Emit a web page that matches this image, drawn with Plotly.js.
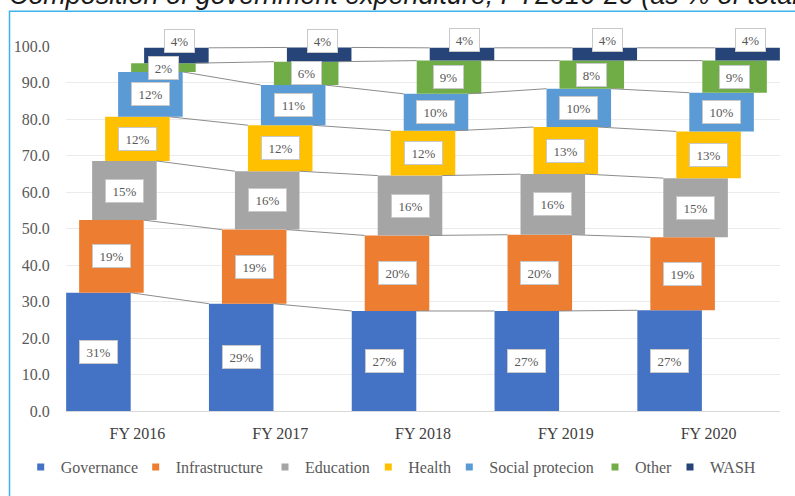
<!DOCTYPE html>
<html>
<head>
<meta charset="utf-8">
<script src="https://cdn.plot.ly/plotly-3.0.1.min.js"></script>
<style>html,body{margin:0;padding:0;background:#fff;} #chart{width:795px;height:496px;}</style>
</head>
<body>
<div id="chart"></div>
<script>
const categories = ['FY 2016', 'FY 2017', 'FY 2018', 'FY 2019', 'FY 2020'];
const seriesNames = ['Governance', 'Infrastructure', 'Education', 'Health', 'Social protecion', 'Other', 'WASH'];
const governance       = [32.4, 29.4, 27.4, 27.4, 27.6];
const infrastructure   = [19.9, 20.3, 20.7, 20.9, 20.0];
const education        = [16.2, 16.0, 16.4, 16.6, 16.2];
const health           = [12.1, 12.6, 12.3, 12.9, 12.8];
const socialProtection = [12.3, 11.0, 10.1, 10.5, 10.6];
const other            = [2.4, 6.4, 9.1, 7.7, 8.8];
const wash             = [4.2, 3.9, 3.5, 3.5, 3.5];
const governanceLabels       = [31, 29, 27, 27, 27];
const infrastructureLabels   = [19, 19, 20, 20, 19];
const educationLabels        = [15, 16, 16, 16, 15];
const healthLabels           = [12, 12, 12, 13, 13];
const socialProtectionLabels = [12, 11, 10, 10, 10];
const otherLabels            = [2, 6, 9, 8, 9];
const washLabels             = [4, 4, 4, 4, 4];
const yTickValues = [0, 10, 20, 30, 40, 50, 60, 70, 80, 90, 100];
const chartTitle = 'Composition of government expenditure, FY2016-20 (as % of total)';

const seriesValues = [governance, infrastructure, education, health, socialProtection, other, wash];
const seriesLabels = [governanceLabels, infrastructureLabels, educationLabels, healthLabels, socialProtectionLabels, otherLabels, washLabels];
const colors = ['#4472C4', '#ED7D31', '#A5A5A5', '#FFC000', '#5B9BD5', '#70AD47', '#264478'];

const W = 795, H = 496;
const M = {l: 66, r: 15, t: 46, b: 83};
const plotW = W - M.l - M.r, plotH = H - M.t - M.b;
const pxToPaperX = px => (px - M.l) / plotW;
const pxToPaperY = py => (H - M.b - py) / plotH;

const barWidth = 0.452;
const step = 0.091;
const xIdx = categories.map((c, i) => i);
const serif = 'Liberation Serif, Times New Roman, serif';

const traces = [];
const annotations = [];
const cum = categories.map(() => 0);
const lineX = [], lineY = [];

seriesValues.forEach((vals, s) => {
  const off = -barWidth / 2 + (s - 3) * step;
  const base = cum.slice();
  traces.push({
    type: 'bar', x: xIdx, y: vals, base: base, offset: off, width: barWidth,
    marker: {color: colors[s], line: {width: 0}}, name: seriesNames[s],
    showlegend: false, hoverinfo: 'skip'
  });
  const tops = vals.map((v, i) => base[i] + v);
  for (let i = 0; i < categories.length - 1; i++) {
    lineX.push(i + off + barWidth, i + 1 + off, null);
    lineY.push(tops[i], tops[i + 1], null);
  }
  vals.forEach((v, i) => {
    const isWash = s === seriesValues.length - 1;
    const lbl = seriesLabels[s][i];
    annotations.push({
      x: i + off + barWidth / 2, y: base[i] + v / 2, xref: 'x', yref: 'y',
      text: lbl + '%', showarrow: false,
      font: {family: serif, size: 13, color: '#595959'},
      bgcolor: '#ffffff', bordercolor: '#c8c8c8', borderwidth: 1, borderpad: 4,
      width: lbl >= 10 ? 29 : 21, height: 14,
      yshift: isWash ? 14 : 0, xshift: isWash ? 3 : 0
    });
  });
  tops.forEach((t, i) => { cum[i] = t; });
});

traces.push({
  type: 'scatter', mode: 'lines', x: lineX, y: lineY,
  line: {color: '#8c8c8c', width: 1}, showlegend: false, hoverinfo: 'skip'
});

// title (placed partly above the top edge, as in the reference)
annotations.push({
  xref: 'paper', yref: 'paper', x: pxToPaperX(7), y: pxToPaperY(-5.5),
  xanchor: 'left', yanchor: 'middle', showarrow: false,
  text: '<i>' + chartTitle + '</i>',
  font: {family: 'Liberation Sans, Arial, sans-serif', size: 26.9, color: '#1a1a1a'}
});

// one legend per entry so each entry sits where the reference puts it
const legendTextStart = [60.7, 175.7, 305, 408.3, 489.3, 635, 710];
const layoutLegends = {};
seriesNames.forEach((n, s) => {
  const key = s === 0 ? 'legend' : 'legend' + (s + 1);
  traces.push({
    type: 'scatter', mode: 'markers', x: [null], y: [null], name: n, legend: key,
    marker: {symbol: 'square', size: 7, color: colors[s]}, showlegend: true
  });
  layoutLegends[key] = {
    orientation: 'h', x: pxToPaperX(legendTextStart[s] - 40), xanchor: 'left',
    y: pxToPaperY(469.5), yanchor: 'middle',
    font: {family: serif, size: 16, color: '#595959'}, itemwidth: 30,
    bgcolor: 'rgba(0,0,0,0)', borderwidth: 0
  };
});

const layout = Object.assign({
  width: W, height: H, autosize: false,
  margin: {l: M.l, r: M.r, t: M.t, b: M.b, pad: 0},
  paper_bgcolor: '#ffffff', plot_bgcolor: '#ffffff',
  barmode: 'overlay',
  xaxis: {
    range: [-0.5, 4.5], tickmode: 'array', tickvals: xIdx, ticktext: categories,
    showgrid: false, zeroline: false, showline: true, linecolor: '#d9d9d9', linewidth: 1,
    ticks: 'outside', ticklen: 8, tickcolor: 'rgba(0,0,0,0)',
    tickfont: {family: serif, size: 16, color: '#404040'}, fixedrange: true
  },
  yaxis: {
    range: [0, 100], tickmode: 'array', tickvals: yTickValues,
    ticktext: yTickValues.map(v => v.toFixed(1)),
    showgrid: true, gridcolor: '#ebebeb', gridwidth: 1, zeroline: false, showline: false,
    ticks: 'outside', ticklen: 12, tickcolor: 'rgba(0,0,0,0)',
    tickfont: {family: serif, size: 16, color: '#595959'}, fixedrange: true
  },
  annotations: annotations,
  shapes: [{
    type: 'rect', xref: 'paper', yref: 'paper', layer: 'below',
    x0: pxToPaperX(9.5), x1: pxToPaperX(820), y0: pxToPaperY(520), y1: pxToPaperY(11),
    line: {color: '#3db3e8', width: 1.5}, fillcolor: 'rgba(0,0,0,0)'
  }]
}, layoutLegends);

Plotly.newPlot('chart', traces, layout, {displayModeBar: false, staticPlot: true});
</script>
</body>
</html>
